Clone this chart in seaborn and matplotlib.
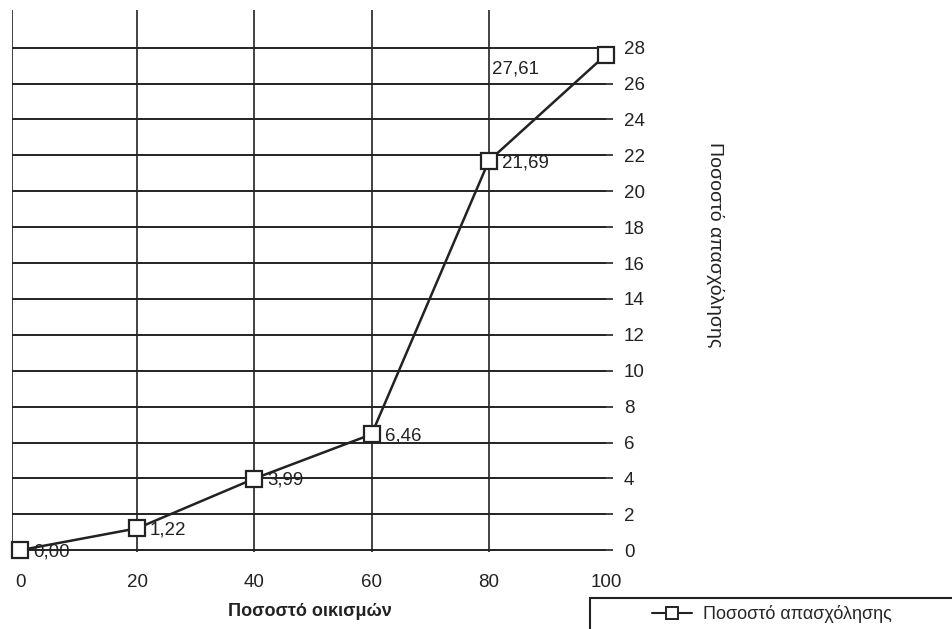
import matplotlib
matplotlib.use("Agg")
import matplotlib.pyplot as plt
import seaborn as sns
import pandas as pd
from matplotlib.patches import Rectangle
from matplotlib.lines import Line2D

settlements_pct = [0, 20, 40, 60, 80, 100]
employment_pct = [0.00, 1.22, 3.99, 6.46, 21.69, 27.61]
value_labels = ["0,00", "1,22", "3,99", "6,46", "21,69", "27,61"]
y_ticks = list(range(0, 29, 2))
x_ticks = [0, 20, 40, 60, 80, 100]
series_name = "Ποσοστό απασχόλησης"
x_title = "Ποσοστό οικισμών"
y_title = "Ποσοστό απασχόλησης"

df = pd.DataFrame({"x": settlements_pct, "y": employment_pct})

sns.set_theme(style="white")
plt.rcParams["font.family"] = ["Liberation Sans", "DejaVu Sans"]

fig = plt.figure(figsize=(9.52, 6.29), dpi=100)
ax = fig.add_axes([12/952, 1-552/629, (606-12)/952, (552-10)/629])

for y in y_ticks:
    ax.axhline(y, color="#222222", lw=1.4, zorder=1)
ax.axvline(-1.3, color="#222222", lw=1.2, zorder=1)
for x in x_ticks[1:-1]:
    ax.axvline(x, color="#222222", lw=1.2, zorder=1)

sns.lineplot(data=df, x="x", y="y", ax=ax, color="#222222", lw=1.8,
             marker="s", markersize=11, markerfacecolor="white",
             markeredgecolor="#222222", markeredgewidth=1.6, zorder=3,
             legend=False, clip_on=False)

for i, (x, y, lab) in enumerate(zip(settlements_pct, employment_pct, value_labels)):
    if i == len(settlements_pct) - 1:
        ax.text(x - 19.5, y - 0.8, lab, fontsize=13.5, va="center", ha="left", color="#222222")
    else:
        ax.text(x + 2.2, y - 0.1, lab, fontsize=13.5, va="center", ha="left", color="#222222")

ax.set_xlim(-1.37, 100)
ax.set_ylim(-0.1, 30.1)
ax.set_xticks(x_ticks)
ax.set_yticks(y_ticks)
ax.yaxis.tick_right()
ax.tick_params(axis="y", which="both", right=True, left=False, length=5, width=1.2,
               color="#222222", labelsize=13.5, labelcolor="#222222", pad=8)
ax.tick_params(axis="x", bottom=False, labelsize=13.5, labelcolor="#222222", pad=10)
for s in ax.spines.values():
    s.set_visible(False)
ax.set_xlabel("")
ax.set_ylabel("")

fig.text(310/952, 1-612/629, x_title, ha="center", va="center", fontsize=13,
         fontweight="bold", color="#222222")
fig.text(715/952, 1-245/629, y_title, ha="center", va="center", fontsize=14,
         rotation=270, color="#222222")

rect = Rectangle((590/952, -0.05), 0.5, (629-598)/629 + 0.05, transform=fig.transFigure,
                 fill=False, edgecolor="#222222", lw=1.5, clip_on=False)
fig.patches.append(rect)
handle = Line2D([0], [0], color="#222222", lw=1.5, marker="s", markersize=9,
                markerfacecolor="white", markeredgecolor="#222222", markeredgewidth=1.4)
fig.legend([handle], [series_name], loc="center left",
           bbox_to_anchor=(643/952, 1-614/629), frameon=False, fontsize=13,
           handlelength=2.2, handletextpad=0.6, borderpad=0)

fig.savefig("out.png", dpi=100)
